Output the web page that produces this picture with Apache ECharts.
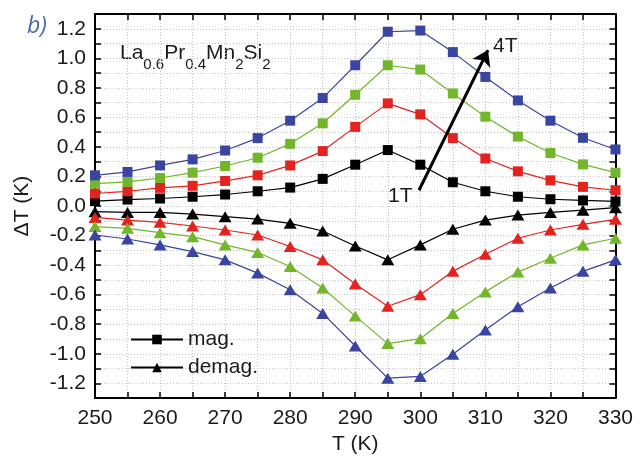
<!DOCTYPE html>
<html>
<head>
<meta charset="utf-8">
<script src="https://cdn.jsdelivr.net/npm/echarts@6/dist/echarts.min.js"></script>
<style>html,body{margin:0;padding:0;background:#fff}#c{width:636px;height:460px}</style>
</head>
<body>
<div id="c"></div>
<script>
const temps = [250,255,260,265,270,275,280,285,290,295,300,305,310,315,320,325,330];
const mag1T = [0.033,0.044,0.051,0.063,0.078,0.100,0.125,0.184,0.280,0.379,0.280,0.161,0.100,0.063,0.046,0.038,0.031];
const mag2T = [0.085,0.100,0.123,0.137,0.170,0.208,0.275,0.372,0.536,0.695,0.621,0.460,0.322,0.235,0.174,0.130,0.107];
const mag3T = [0.152,0.163,0.190,0.226,0.271,0.327,0.421,0.560,0.753,0.953,0.924,0.762,0.605,0.470,0.359,0.282,0.226];
const mag4T = [0.208,0.231,0.275,0.316,0.376,0.460,0.578,0.731,0.953,1.180,1.188,1.042,0.874,0.715,0.578,0.462,0.383];
const demag1T = [-0.038,-0.043,-0.043,-0.054,-0.072,-0.088,-0.117,-0.169,-0.270,-0.364,-0.263,-0.157,-0.095,-0.061,-0.043,-0.028,-0.011];
const demag2T = [-0.077,-0.095,-0.110,-0.135,-0.162,-0.196,-0.274,-0.364,-0.528,-0.678,-0.600,-0.442,-0.326,-0.218,-0.162,-0.124,-0.090];
const demag3T = [-0.139,-0.151,-0.180,-0.207,-0.263,-0.314,-0.409,-0.555,-0.745,-0.931,-0.898,-0.727,-0.581,-0.447,-0.353,-0.263,-0.218];
const demag4T = [-0.196,-0.223,-0.263,-0.308,-0.364,-0.454,-0.566,-0.727,-0.947,-1.165,-1.153,-1.003,-0.839,-0.682,-0.555,-0.442,-0.364];
const legendNames = ['mag.','demag.'];
const arrowFrom = [299.8, 0.107];
const arrowTo = [310.4, 1.056];

const colors = {b:'#000000', r:'#e3231f', g:'#72b62c', u:'#3a45a0'};
const FONT = '"Liberation Sans", Arial, sans-serif';
const FS = 21;
const TRI = [13,11];

function pair(a){ return temps.map((t,i)=>[t,a[i]]); }
function mk(name, data, color, sym){
  return {
    name: name, type:'line', data: pair(data),
    symbol: sym, symbolSize: sym==='rect' ? 10 : TRI,
    itemStyle:{color:color}, lineStyle:{color:color,width:1.2},
    emphasis:{disabled:true}, animation:false, z:3
  };
}
const series = [
  mk('m1', mag1T, colors.b, 'rect'),
  mk('m2', mag2T, colors.r, 'rect'),
  mk('m3', mag3T, colors.g, 'rect'),
  mk('m4', mag4T, colors.u, 'rect'),
  mk('d1', demag1T, colors.b, 'triangle'),
  mk('d2', demag2T, colors.r, 'triangle'),
  mk('d3', demag3T, colors.g, 'triangle'),
  mk('d4', demag4T, colors.u, 'triangle'),
  {name:legendNames[0], type:'line', data:[], symbol:'rect', symbolSize:10, itemStyle:{color:'#000'}, lineStyle:{color:'#000',width:1.2}},
  {name:legendNames[1], type:'line', data:[], symbol:'triangle', symbolSize:TRI, itemStyle:{color:'#000'}, lineStyle:{color:'#000',width:1.2}}
];
series[0].markLine = {
  silent:true, symbol:['none','arrow'], symbolSize:15,
  itemStyle:{color:'#000'},
  lineStyle:{color:'#000', width:3, type:'solid'},
  label:{show:false},
  data:[[{coord:arrowFrom},{coord:arrowTo}]],
  animation:false
};

const gridLine = {show:true, lineStyle:{color:'#c4c4c4', type:[1,2], width:1}};
const axisLineStyle = {show:true, onZero:false, lineStyle:{color:'#000', width:2}};
const tickStyle = {show:true, inside:true, length:6, lineStyle:{color:'#000', width:1.5}};

const option = {
  animation:false,
  grid:{left:95, right:20, top:14, bottom:59, containLabel:false},
  legend:{
    data:legendNames, orient:'vertical', left:130, top:329, padding:0,
    itemWidth:52, itemHeight:12, itemGap:7,
    textStyle:{fontSize:FS, color:'#1a1a1a', fontFamily:FONT}
  },
  xAxis:[{
    type:'value', min:250, max:330, interval:5,
    name:'T (K)', nameLocation:'middle', nameGap:33,
    nameTextStyle:{fontSize:FS, color:'#1a1a1a', fontFamily:FONT},
    axisLine:axisLineStyle, axisTick:tickStyle,
    axisLabel:{fontSize:FS, color:'#1a1a1a', fontFamily:FONT, margin:10,
      formatter:v=> (Math.round(v)%10===0 ? String(Math.round(v)) : '')},
    splitLine:gridLine
  },{
    type:'value', min:250, max:330, interval:5, position:'top',
    axisLine:axisLineStyle, axisTick:tickStyle,
    axisLabel:{show:false}, splitLine:{show:false}
  }],
  yAxis:[{
    type:'value', min:-1.3, max:1.3, interval:0.1,
    name:'ΔT (K)', nameLocation:'middle', nameGap:62, nameRotate:90,
    nameTextStyle:{fontSize:FS, color:'#1a1a1a', fontFamily:FONT},
    axisLine:axisLineStyle, axisTick:tickStyle,
    axisLabel:{fontSize:FS, color:'#1a1a1a', fontFamily:FONT, margin:9,
      formatter:v=>{ const k=Math.round(v*10); if (k%2!==0 || Math.abs(k)>12) return ''; return (k/10).toFixed(1); }},
    splitLine:gridLine
  },{
    type:'value', min:-1.3, max:1.3, interval:0.1, position:'right',
    axisLine:axisLineStyle, axisTick:tickStyle,
    axisLabel:{show:false}, splitLine:{show:false}
  }],
  series: series,
  graphic:[
    {type:'text', left:27, top:15, style:{text:'b)', fontSize:23, fontStyle:'italic', fill:'#4a68b0', fontFamily:'"Open Sans", sans-serif'}},
    {type:'text', left:120, top:43, style:{
      text:'{n|La}{s|0.6}{n|Pr}{s|0.4}{n|Mn}{s|2}{n|Si}{s|2}',
      rich:{
        n:{fontSize:21, lineHeight:23, verticalAlign:'top', fill:'#1a1a1a', fontFamily:FONT},
        s:{fontSize:15, lineHeight:15, padding:[14,0,0,0], verticalAlign:'top', fill:'#1a1a1a', fontFamily:FONT}
      }
    }},
    {type:'text', left:493, top:36, style:{text:'4T', fontSize:FS, fill:'#1a1a1a', fontFamily:FONT}},
    {type:'text', left:388, top:186, style:{text:'1T', fontSize:FS, fill:'#1a1a1a', fontFamily:FONT}}
  ]
};
const chart = echarts.init(document.getElementById('c'), null, {renderer:'canvas'});
chart.setOption(option);
</script>
</body>
</html>
